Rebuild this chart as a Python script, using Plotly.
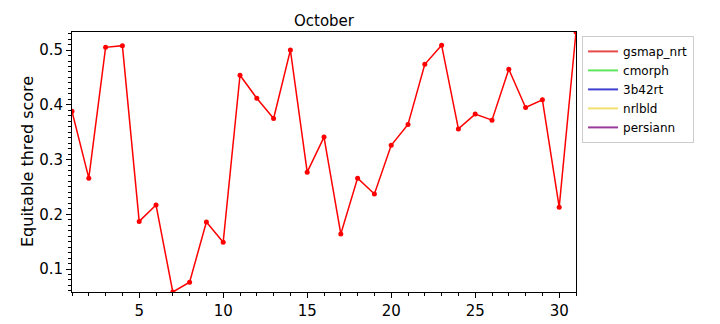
import plotly.graph_objects as go

days = list(range(1, 32))
gsmap_nrt = [0.388, 0.266, 0.505, 0.508, 0.187, 0.217, 0.058, 0.076, 0.186, 0.149,
             0.454, 0.412, 0.375, 0.500, 0.277, 0.341, 0.164, 0.266, 0.237, 0.326,
             0.364, 0.474, 0.509, 0.356, 0.383, 0.372, 0.465, 0.395, 0.409, 0.213, 0.533]
# other products have no values for this month
cmorph = [None]
b42rt = [None]
nrlbld = [None]
persiann = [None]

series_names = ["gsmap_nrt", "cmorph", "3b42rt", "nrlbld", "persiann"]
legend_colors = ["#e84a4a", "#5ee65e", "#4040d0", "#f0e070", "#9a3a9a"]
font = "DejaVu Sans"

fig = go.Figure()
fig.add_trace(go.Scatter(x=days, y=gsmap_nrt, mode="lines+markers", showlegend=False,
                         line=dict(color="#ff0000", width=1.5),
                         marker=dict(color="#ff0000", size=5)))
for name, data, col in zip(series_names, [[None], cmorph, b42rt, nrlbld, persiann], legend_colors):
    fig.add_trace(go.Scatter(x=data, y=data, mode="lines", name=name,
                             line=dict(color=col, width=2)))

fig.update_layout(
    width=720, height=324,
    margin=dict(l=72, r=144, t=32, b=32),
    plot_bgcolor="white", paper_bgcolor="white",
    font=dict(family=font, color="black"),
    title=dict(text="October", x=0.5, xref="paper", xanchor="center",
               y=(324 - 21) / 324, yref="container", yanchor="middle",
               font=dict(size=15, family=font)),
    legend=dict(x=1.012, y=0.985, xanchor="left", yanchor="top",
                bordercolor="#cccccc", borderwidth=1, bgcolor="white",
                font=dict(size=12, family=font), tracegroupgap=0),
    showlegend=True,
    annotations=[dict(text="Equitable thred score", textangle=-90,
                      x=(27 - 72) / 504, xref="paper", xanchor="center",
                      y=0.5, yref="paper", yanchor="middle", showarrow=False,
                      font=dict(size=16, family=font))],
)
fig.update_xaxes(range=[1, 31], tickvals=[5, 10, 15, 20, 25, 30], automargin=False,
                 ticks="outside", ticklen=5, tickcolor="black",
                 showline=True, linecolor="black", linewidth=1, mirror=True,
                 showgrid=False, zeroline=False,
                 tickfont=dict(size=15, family=font),
                 minor=dict(dtick=1, tick0=1, ticks="outside", ticklen=3, tickcolor="black"))
fig.update_yaxes(range=[0.058, 0.533], tick0=0.1, dtick=0.1, tickformat=".1f", automargin=False,
                 ticks="outside", ticklen=5, tickcolor="black",
                 showline=True, linecolor="black", linewidth=1, mirror=True,
                 showgrid=False, zeroline=False,
                 tickfont=dict(size=15, family=font),
                 minor=dict(dtick=0.01, tick0=0.0, ticks="outside", ticklen=3, tickcolor="black"))

fig.write_html("out.html")
